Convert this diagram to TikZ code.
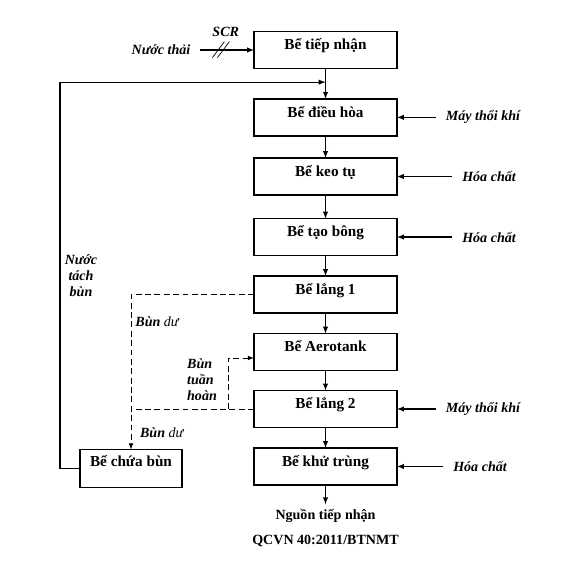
\documentclass[tikz,border=0pt]{standalone}
\usepackage{fontspec}
\setmainfont{Liberation Serif}
\usepackage{tikz}
\usetikzlibrary{arrows, calc}
\newcommand\dfont{\fontsize{12}{13.6}\selectfont}
\newcommand\bfont{\fontsize{13}{15}\selectfont}
\tikzset{
    pics/tank/.style = {
        code = {%
        \coordinate (-center) at (0, 0);
        \coordinate (-north) at (0, .555cm);
        \coordinate (-south) at (0,-.555cm);
        \coordinate (-east) at (2.145cm,0);
        \coordinate (-west) at (-2.145cm,0);
        \coordinate (-label) at (0, 0);
        \draw[line width=1.4pt](-2.145cm,-.555cm) rectangle (2.145cm,.555cm);
        }
    },
    pics/smalltank/.style = {
        code = {%
        \coordinate (-center) at (0, 0);
        \coordinate (-north) at (0, .57cm);
        \coordinate (-south) at (0,-.57cm);
        \coordinate (-east) at (1.53cm,0);
        \coordinate (-west) at (-1.53cm,0);
        \coordinate (-label) at (0, .06cm);
        \draw[line width=1.4pt](-1.53cm,-.57cm) rectangle (1.53cm,.57cm);
        }
    },
    boxtext/.style = {font=\bfont\bfseries, anchor=base},
    endtext/.style = {font=\dfont\bfseries, anchor=base},
    note/.style = {font=\dfont\bfseries\itshape, inner xsep=8pt},
    sludge/.style = {line width=.8pt, dash pattern=on 5pt off 3pt},
}
\begin{document}
\begin{tikzpicture}[line width=1pt, >=latex]
\useasboundingbox (0,0) rectangle (17.13,17.04);

\pic(B1) at (9.765,15.54){tank};
\node[boxtext] (t1) at (B1-label){Bể tiếp nhận};

\pic(B2) at (9.765,13.52){tank};
\node[boxtext] (t2) at (B2-label){Bể điều hòa};
\draw[->] (B1-south) -- (B2-north);

\pic(B3) at (9.765,11.745){tank};
\node[boxtext] (t3) at (B3-label){Bể keo tụ};
\draw[->] (B2-south) -- (B3-north);

\pic(B4) at (9.765,9.93){tank};
\node[boxtext] (t4) at (B4-label){Bể tạo bông};
\draw[->] (B3-south) -- (B4-north);

\pic(B5) at (9.765,8.205){tank};
\node[boxtext] (t5) at (B5-label){Bể lắng 1};
\draw[->] (B4-south) -- (B5-north);

\pic(B6) at (9.765,6.48){tank};
\node[boxtext] (t6) at (B6-label){Bể Aerotank};
\draw[->] (B5-south) -- (B6-north);

\pic(B7) at (9.765,4.77){tank};
\node[boxtext] (t7) at (B7-label){Bể lắng 2};
\draw[->] (B6-south) -- (B7-north);

\pic(B8) at (9.765,3.045){tank};
\node[boxtext] (t8) at (B8-label){Bể khử trùng};
\draw[->] (B7-south) -- (B8-north);

\node[endtext] (out) at (9.765,1.47){Nguồn tiếp nhận};
\draw[->] (B8-south) -- (out);
\node[endtext] (qc) at (9.765,0.72){QCVN 40:2011/BTNMT};

\pic(BC) at (3.93,2.985){smalltank};
\node[boxtext] (tc) at (BC-label){Bể chứa bùn};

% inflow
\node[note] (nt) at (4.83,15.54){Nước thải};
\draw[->] (nt) -- (B1-west);
\coordinate (cut) at ($(nt.east)!.4!(B1-west)$);
\draw[line width=.6pt] ($(cut)+(-0.28,-0.23)$) -- ++(0.36,0.48);
\draw[line width=.6pt] ($(cut)+(-0.13,-0.23)$) -- ++(0.36,0.48);
\node[note] (scr) at ($(cut)+(0.12,0.54)$){SCR};

% dosing
\node[note] (m1) at ($(B2-east)+(2.58,0)$){Máy thổi khí};
\draw[->] (m1) -- (B2-east);
\node[note] (h1) at ($(B3-east)+(2.76,0)$){Hóa chất};
\draw[->] (h1) -- (B3-east);
\node[note] (h2) at ($(B4-east)+(2.76,0)$){Hóa chất};
\draw[->] (h2) -- (B4-east);
\node[note] (m2) at ($(B7-east)+(2.58,0)$){Máy thổi khí};
\draw[->] (m2) -- (B7-east);
\node[note] (h3) at ($(B8-east)+(2.49,0)$){Hóa chất};
\draw[->] (h3) -- (B8-east);

% sludge lines
\coordinate (fb) at ($(B1-south)!.45!(B2-north)$);
\draw[->] (BC-west) -- ++(-0.6,0) |- (fb);
\node[note, align=center] (ntb) at (2.43,8.76){Nước\\tách\\bùn};

\draw[sludge,->] (B5-west) -| (BC-north);
\draw[sludge] (B7-west) -- (B7-west -| BC-north);
\coordinate (rc) at ($(B7-west)+(-0.78,0)$);
\draw[sludge,->] (rc) |- ([yshift=-0.18cm]B6-west);
\node[note] (bd1) at (4.71,7.39){Bùn {\mdseries dư}};
\node[note] (bd2) at (4.85,4.05){Bùn {\mdseries dư}};
\node[note, align=left] (btn) at (6.06,5.655){Bùn\\tuần\\hoàn};
\end{tikzpicture}
\end{document}
